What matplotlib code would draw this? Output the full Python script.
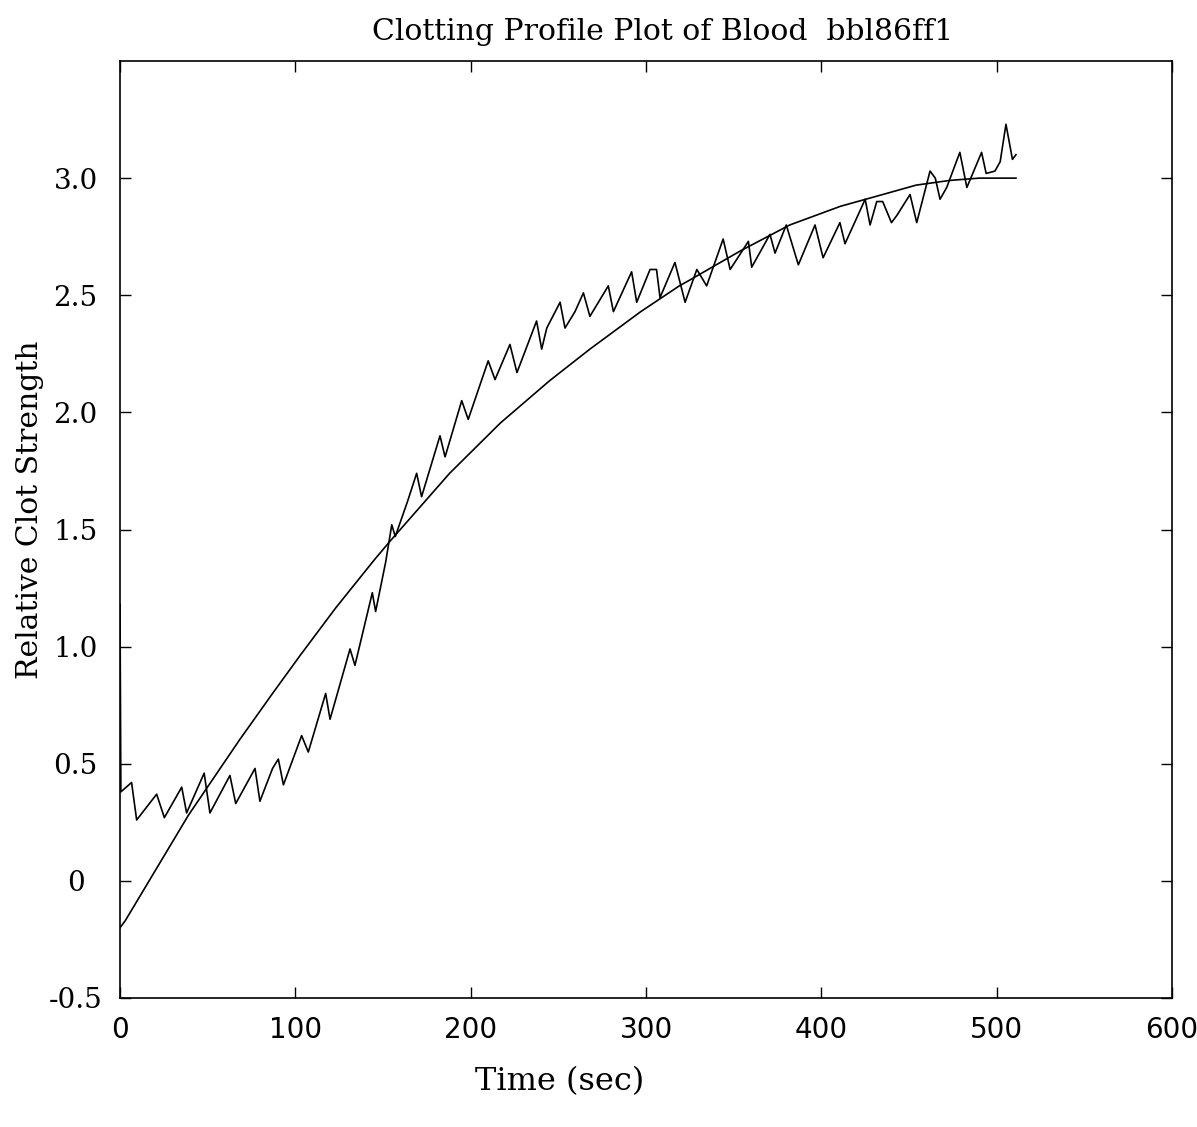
import matplotlib
matplotlib.use("Agg")
import matplotlib.pyplot as plt

t_meas = [0, 0.5, 6.6, 9.5, 20.9, 25.3, 35.2, 38, 48, 51.3, 62.7, 66, 77, 79.8,
          87, 90.3, 93.2, 103.6, 107.4, 117.3, 119.8, 131.2, 134, 143.9, 145.8,
          151.5, 155, 157, 164, 169.2, 172, 182.5, 185.4, 194.9, 198.6, 210,
          213.9, 222.4, 226.4, 237.6, 240.5, 243.4, 251, 253.8, 259.5, 264.3,
          268, 278.5, 281.4, 291.8, 294.7, 302.3, 306, 308, 316.5, 322.3, 329,
          334.6, 344, 348, 358.4, 360.3, 370.7, 373.6, 380, 386.9, 396.4, 401,
          410.6, 413.5, 422, 425, 427.8, 431.6, 435, 440, 443, 450.6, 454.4,
          462, 465, 467.7, 471.5, 479, 483, 491.4, 494, 499, 502, 505.3, 509, 511]
y_meas = [1.18, 0.38, 0.42, 0.26, 0.37, 0.27, 0.40, 0.29, 0.46, 0.29, 0.45, 0.33,
          0.48, 0.34, 0.48, 0.52, 0.41, 0.62, 0.55, 0.80, 0.69, 0.99, 0.92, 1.23,
          1.15, 1.36, 1.52, 1.47, 1.62, 1.74, 1.64, 1.90, 1.81, 2.05, 1.97, 2.22,
          2.14, 2.29, 2.17, 2.39, 2.27, 2.36, 2.47, 2.36, 2.43, 2.51, 2.41, 2.54,
          2.43, 2.60, 2.47, 2.61, 2.61, 2.49, 2.64, 2.47, 2.61, 2.54, 2.74, 2.61,
          2.73, 2.62, 2.76, 2.68, 2.80, 2.63, 2.80, 2.66, 2.81, 2.72, 2.86, 2.91,
          2.80, 2.90, 2.90, 2.81, 2.84, 2.93, 2.81, 3.03, 3.00, 2.91, 2.96, 3.11,
          2.96, 3.11, 3.02, 3.03, 3.07, 3.23, 3.08, 3.10]

# fitted profile curve
t_fit = [0, 3, 39, 68, 87, 103, 123, 145, 154, 188, 217, 245, 268, 297, 319,
         325, 354, 382, 411, 435, 454, 473, 490, 511]
y_fit = [-0.20, -0.17, 0.28, 0.60, 0.80, 0.965, 1.165, 1.37, 1.45, 1.74, 1.955,
         2.135, 2.27, 2.43, 2.54, 2.565, 2.69, 2.80, 2.88, 2.93, 2.97, 2.99, 3.00, 3.00]

xticks = [0, 100, 200, 300, 400, 500, 600]
yticks = [-0.5, 0, 0.5, 1.0, 1.5, 2.0, 2.5, 3.0]
ytick_labels = ["-0.5", "0", "0.5", "1.0", "1.5", "2.0", "2.5", "3.0"]

W, H = 1197, 1127
fig = plt.figure(figsize=(W / 100, H / 100), dpi=100)
ax = fig.add_axes([120 / W, 1 - 998 / H, (1172 - 120) / W, (998 - 61) / H])

ax.plot(t_meas, y_meas, color="black", lw=1.2)
ax.plot(t_fit, y_fit, color="black", lw=1.2)

ax.set_xlim(0, 600)
ax.set_ylim(-0.5, 3.5)
ax.set_xticks(xticks)
ax.set_xticklabels([str(v) for v in xticks], family="DejaVu Sans", fontsize=20)
ax.set_yticks(yticks)
ax.set_yticklabels(ytick_labels, family="DejaVu Serif", fontsize=20)
for lab in ax.get_yticklabels():
    lab.set_horizontalalignment("center")

ax.tick_params(direction="in", length=8, width=1, top=True, right=True)
ax.tick_params(axis="y", pad=32)
ax.tick_params(axis="x", pad=13)
for s in ax.spines.values():
    s.set_linewidth(1.2)

fig.text(663 / W, 1 - 32 / H, "Clotting Profile Plot of Blood  bbl86ff1",
         family="DejaVu Serif", fontsize=21.5, ha="center", va="center")
fig.text(30 / W, 1 - 510 / H, "Relative Clot Strength", family="DejaVu Serif",
         fontsize=21.5, rotation=90, ha="center", va="center")
fig.text(560 / W, 1 - 1082 / H, "Time (sec)", family="DejaVu Serif",
         fontsize=23, ha="center", va="center")

fig.savefig("out.png", dpi=100)
